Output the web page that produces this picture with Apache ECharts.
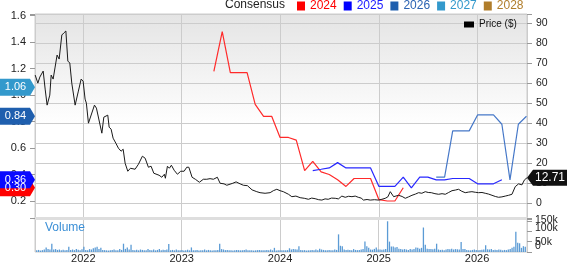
<!DOCTYPE html>
<html><head><meta charset="utf-8">
<script src="https://cdn.jsdelivr.net/npm/echarts@6/dist/echarts.min.js"></script>
<style>html,body{margin:0;padding:0;background:#fff}#c{width:568px;height:264px}</style>
</head><body><div id="c"></div>
<script>
// ---------- data ----------
const xStart = '2021-07-08';
const xEnd = '2026-07-03';
const yearLabels = ['2022', '2023', '2024', '2025', '2026'];

// Price ($), dates as decimal years
const priceYears = [
  2021.517, 2021.544, 2021.564, 2021.582, 2021.598, 2021.618, 2021.638, 2021.665, 2021.679, 2021.699,
  2021.719, 2021.739, 2021.760, 2021.787, 2021.807, 2021.828, 2021.848, 2021.868, 2021.888, 2021.922,
  2021.955, 2021.983, 2022.003, 2022.023, 2022.036, 2022.057, 2022.077, 2022.118, 2022.138, 2022.158,
  2022.193, 2022.213, 2022.233, 2022.253, 2022.267, 2022.287, 2022.307, 2022.335, 2022.361, 2022.388,
  2022.409, 2022.429, 2022.456, 2022.483, 2022.530, 2022.564, 2022.604, 2022.632, 2022.665, 2022.692,
  2022.720, 2022.740, 2022.773, 2022.801, 2022.827, 2022.837, 2022.858, 2022.878, 2022.898, 2022.926,
  2022.959, 2022.993, 2023.027, 2023.054, 2023.075, 2023.108, 2023.141, 2023.182, 2023.222, 2023.257,
  2023.290, 2023.324, 2023.364, 2023.392, 2023.432, 2023.460, 2023.480, 2023.521, 2023.554, 2023.595,
  2023.628, 2023.669, 2023.716, 2023.764, 2023.797, 2023.848, 2023.899, 2023.932, 2023.967, 2024.000,
  2024.033, 2024.051, 2024.085, 2024.119, 2024.160, 2024.203, 2024.245, 2024.287, 2024.320, 2024.355,
  2024.390, 2024.423, 2024.455, 2024.487, 2024.520, 2024.558, 2024.590, 2024.625, 2024.659, 2024.693,
  2024.727, 2024.760, 2024.791, 2024.820, 2024.844, 2024.880, 2024.912, 2024.955, 2024.996, 2025.030,
  2025.064, 2025.090, 2025.115, 2025.149, 2025.199, 2025.235, 2025.267, 2025.300, 2025.335, 2025.370,
  2025.402, 2025.435, 2025.470, 2025.500, 2025.531, 2025.568, 2025.605, 2025.640, 2025.673, 2025.707,
  2025.741, 2025.775, 2025.807, 2025.840, 2025.875, 2025.910, 2025.943, 2025.977, 2026.010, 2026.045,
  2026.078, 2026.112, 2026.146, 2026.180, 2026.213, 2026.247, 2026.281, 2026.315, 2026.349, 2026.382,
  2026.416, 2026.450, 2026.476, 2026.501
];
const priceValues = [
  64, 60, 63, 63.5, 66, 57, 49, 54, 64, 62,
  68, 74, 72, 84, 85, 86, 71, 70, 60, 49,
  56, 62, 61, 52, 50, 40, 40, 49, 47.5, 48,
  35, 43, 43, 44, 38, 37, 32.5, 30, 27.5, 26,
  27, 20, 16, 17.5, 17, 19.5, 23.5, 22.5, 18, 18.5,
  15, 14.5, 14, 13, 14.5, 12.5, 18.5, 17.5, 19, 16.5,
  14.5, 16, 16, 18, 18, 13, 12, 10.5, 12, 12,
  12.3, 12, 13, 10, 9.7, 9, 8.3, 10, 10.7, 9.7,
  9, 8.8, 6.7, 5.8, 5.3, 5, 5.3, 6.3, 7, 6.3,
  5.8, 5.8, 4.5, 3.3, 3.6, 2.8, 2.5, 2, 2.6, 2.3,
  1.8, 1.6, 2.2, 2, 2.6, 2.5, 2.2, 3.6, 3, 3.5,
  3.3, 3.6, 3, 2.6, 1.6, 1.9, 1.6, 1.8, 1.6, 2.0,
  2.5, 3.2, 5.8, 3.3, 4, 3.4, 2.5, 3.2, 4, 4.6,
  5.3, 5.0, 5.8, 5.4, 5.3, 4.8, 4.5, 4.8, 4.5, 5.4,
  6.3, 6.6, 7, 6.0, 5.3, 5.6, 5.8, 5.5, 5.3, 5.4,
  5, 4.6, 4, 3.4, 3, 3.2, 3.6, 4.0, 4.5, 8.3,
  9.7, 9.2, 11.7, 12.71
];

// Consensus EPS, monthly
const months2024 = ['2023-05','2023-06','2023-07','2023-08','2023-09','2023-10','2023-11','2023-12',
  '2024-01','2024-02','2024-03','2024-04','2024-05','2024-06','2024-07','2024-08','2024-09','2024-10',
  '2024-11','2024-12','2025-01','2025-02','2025-03','2025-04'];
const eps2024 = [1.18, 1.48, 1.17, 1.17, 1.17, 0.93, 0.84, 0.84,
  0.68, 0.68, 0.66, 0.43, 0.50, 0.42, 0.40, 0.36, 0.31, 0.37,
  0.37, 0.37, 0.21, 0.20, 0.20, 0.30];
const months2025 = ['2024-05','2024-06','2024-07','2024-08','2024-09','2024-10','2024-11','2024-12',
  '2025-01','2025-02','2025-03','2025-04','2025-05','2025-06','2025-07','2025-08','2025-09','2025-10',
  '2025-11','2025-12','2026-01','2026-02','2026-03','2026-04'];
const eps2025 = [0.43, 0.44, 0.45, 0.49, 0.45, 0.45, 0.45, 0.45,
  0.31, 0.31, 0.31, 0.38, 0.30, 0.38, 0.38, 0.36, 0.36, 0.37,
  0.37, 0.37, 0.33, 0.33, 0.33, 0.36];
const months2026 = ['2025-08','2025-09','2025-10','2025-11','2025-12','2026-01','2026-02','2026-03',
  '2026-04','2026-05','2026-06','2026-07'];
const eps2026 = [0.38, 0.38, 0.73, 0.73, 0.73, 0.85, 0.85, 0.85, 0.78, 0.36, 0.78, 0.84];
const months2027 = ['2026-07'];
const eps2027 = [1.06];
const months2028 = [];
const eps2028 = [];

// Weekly volume (thousands)
const volumeStart = '2021-07-12';
const volumeK = [
  8, 10, 7, 9, 12, 22, 14, 12, 40, 12,
  14, 10, 12, 9, 11, 8, 10, 25, 10, 12,
  9, 14, 11, 8, 13, 25, 10, 9, 14, 12,
  18, 22, 25, 14, 20, 10, 9, 8, 7, 9,
  10, 12, 9, 8, 14, 10, 40, 15, 22, 12,
  35, 10, 9, 11, 8, 12, 10, 9, 8, 14,
  10, 9, 12, 8, 10, 15, 9, 11, 10, 12,
  38, 9, 10, 8, 12, 9, 8, 10, 7, 9,
  11, 8, 22, 9, 8, 10, 7, 9, 8, 12,
  8, 10, 9, 7, 8, 9, 10, 40, 14, 12,
  9, 10, 8, 9, 7, 8, 10, 9, 8, 9,
  10, 12, 9, 8, 9, 7, 8, 9, 10, 8,
  9, 8, 10, 9, 12, 8, 20, 7, 8, 9,
  8, 9, 8, 9, 18, 12, 14, 13, 12, 28,
  10, 8, 9, 7, 8, 9, 10, 8, 12, 9,
  16, 12, 10, 9, 8, 10, 9, 8, 12, 10,
  85, 30, 28, 12, 10, 11, 10, 9, 14, 10,
  9, 10, 12, 14, 50, 28, 20, 12, 11, 15,
  22, 12, 12, 11, 12, 14, 148, 50, 26, 26,
  22, 24, 16, 15, 12, 14, 12, 10, 14, 12,
  14, 22, 20, 16, 20, 118, 35, 16, 14, 14,
  13, 16, 40, 12, 10, 11, 9, 12, 14, 13,
  16, 12, 14, 13, 12, 48, 15, 14, 10, 9,
  8, 10, 12, 10, 9, 10, 11, 12, 32, 13,
  12, 14, 10, 11, 10, 12, 11, 8, 10, 9,
  12, 15, 20, 25, 97, 45, 42, 20, 28, 25
];
const volumeTicks = [0, 50000, 100000, 150000];

// ---------- helpers ----------
function parseDate(s) {
  const p = s.split('-').map(Number);
  return new Date(p[0], p[1] - 1, p[2] || 1).getTime();
}
function yearToTime(y) {
  const Y = Math.floor(y);
  const a = new Date(Y, 0, 1).getTime(), b = new Date(Y + 1, 0, 1).getTime();
  return a + (y - Y) * (b - a);
}
const tMin = parseDate(xStart), tMax = parseDate(xEnd);
const FONT = 'Liberation Sans, Arial, sans-serif';

function zip(dates, vals) { return dates.map((d, i) => [parseDate(d), vals[i]]); }

function leftFlag(value, color) {
  return {
    silent: true, animation: false,
    symbol: 'path://M0,0L30,0L35,8.5L30,17L0,17Z',
    symbolSize: [35, 17], symbolOffset: [-17.5, 0], symbolKeepAspect: false,
    itemStyle: { color: color },
    label: { show: true, position: 'inside', color: '#fff', fontSize: 11, fontFamily: FONT,
      offset: [-2, 0], formatter: value.toFixed(2) },
    data: [{ coord: [tMin, value] }]
  };
}

const consensus = [
  { name: '2024', dates: months2024, vals: eps2024, line: '#ff2a2a', flag: '#ff0000' },
  { name: '2025', dates: months2025, vals: eps2025, line: '#2828ff', flag: '#0a0aff' },
  { name: '2026', dates: months2026, vals: eps2026, line: '#4678c8', flag: '#1f5fae' },
  { name: '2027', dates: months2027, vals: eps2027, line: '#3399cc', flag: '#3399cc' },
  { name: '2028', dates: months2028, vals: eps2028, line: '#b07d2b', flag: '#b07d2b' }
];

const series = consensus.map(c => {
  const s = {
    name: c.name, type: 'line', xAxisIndex: 0, yAxisIndex: 0,
    data: zip(c.dates, c.vals), showSymbol: false, symbol: 'none',
    color: c.line, lineStyle: { width: 1.2, color: c.line }, z: 3, animation: false
  };
  if (c.vals.length) s.markPoint = leftFlag(c.vals[c.vals.length - 1], c.flag);
  return s;
});

const lastPrice = priceValues[priceValues.length - 1];
series.push({
  name: 'Price ($)', type: 'line', xAxisIndex: 0, yAxisIndex: 1,
  data: priceYears.map((y, i) => [yearToTime(y), priceValues[i]]),
  showSymbol: false, symbol: 'none', color: '#111',
  lineStyle: { width: 1, color: '#1a1a1a' }, z: 4, animation: false,
  markPoint: {
    silent: true, animation: false,
    symbol: 'path://M0,8L6,0L40,0L40,16L6,16Z',
    symbolSize: [40, 16], symbolOffset: [20, 0], symbolKeepAspect: false,
    itemStyle: { color: '#111' },
    label: { show: true, position: 'inside', color: '#fff', fontSize: 12, fontFamily: FONT,
      offset: [3, 0], formatter: lastPrice.toFixed(2) },
    data: [{ coord: [tMax, lastPrice] }]
  }
});

const DAY = 86400000;
const vStart = parseDate(volumeStart);
series.push({
  name: 'Volume', type: 'bar', xAxisIndex: 1, yAxisIndex: 2,
  data: volumeK.map((v, i) => [vStart + i * 7 * DAY, v * 1000]),
  barWidth: 1.3, itemStyle: { color: '#5b9bd5' }, animation: false
});

const isMult = (v, step) => Math.abs(v / step - Math.round(v / step)) < 1e-6;
const volStep = volumeTicks[1] - volumeTicks[0];
const volTop = volumeTicks[volumeTicks.length - 1];
const volLabel = v => (v === 0 ? '0' : (v > 0 && v <= volTop ? (v / 1000) + 'k' : ''));

const timeAxisBase = {
  type: 'time', min: tMin, max: tMax, splitNumber: 5,
  minInterval: 360 * DAY,
  splitLine: { show: true, lineStyle: { color: '#cccccc', width: 1 } },
  axisTick: { show: false }
};

// label-only scale for the volume pane (split into two axes so that labels never collide)
function volLabelAxis(gridIndex, min, max) {
  return { type: 'value', gridIndex: gridIndex, position: 'right',
    min: min, max: max, interval: 2 * volStep,
    splitLine: { show: false }, axisLine: { show: false }, axisTick: { show: false },
    axisLabel: { margin: 8, fontSize: 10.5, color: '#222', fontFamily: FONT,
      showMinLabel: false, showMaxLabel: false, formatter: volLabel } };
}

const option = {
  animation: false,
  backgroundColor: '#ffffff',
  textStyle: { fontFamily: FONT },
  title: [
    { text: 'Consensus', left: 225, top: -1, padding: 0,
      textStyle: { fontSize: 12, fontWeight: 'normal', color: '#222', fontFamily: FONT } },
    { text: 'Volume', left: 45, top: 222, padding: 0,
      textStyle: { fontSize: 12, fontWeight: 'normal', color: '#3b8fd6', fontFamily: FONT } }
  ],
  legend: [
    { left: 297, top: 0, padding: 0, itemWidth: 8, itemHeight: 9, itemGap: 7, icon: 'rect',
      selectedMode: false,
      textStyle: { fontSize: 12, fontFamily: FONT },
      data: [
        { name: '2024', textStyle: { color: '#ff0000' }, itemStyle: { color: '#ff0000' } },
        { name: '2025', textStyle: { color: '#1a1aff' }, itemStyle: { color: '#0000ff' } },
        { name: '2026', textStyle: { color: '#2a62b2' }, itemStyle: { color: '#1f5fae' } },
        { name: '2027', textStyle: { color: '#3399cc' }, itemStyle: { color: '#3399cc' } },
        { name: '2028', textStyle: { color: '#b07d2b' }, itemStyle: { color: '#b07d2b' } }
      ] },
    { left: 464, top: 19.5, padding: 0, itemWidth: 10, itemHeight: 6, icon: 'rect',
      selectedMode: false,
      textStyle: { fontSize: 10, color: '#111', fontFamily: FONT },
      data: [{ name: 'Price ($)', itemStyle: { color: '#000' } }] }
  ],
  grid: [
    { left: 35, right: 41, top: 14, bottom: 46, show: true, borderColor: '#cccccc', borderWidth: 1,
      backgroundColor: { type: 'linear', x: 0, y: 0, x2: 0, y2: 1,
        colorStops: [{ offset: 0, color: '#e4e4e4' }, { offset: 0.55, color: '#ffffff' }, { offset: 1, color: '#ffffff' }] } },
    { left: 35, right: 41, top: 219, bottom: 9.7, show: true, borderColor: '#cccccc', borderWidth: 1,
      backgroundColor: '#ffffff' },
    // label panes for the volume scale: 33.3 px per 150k, 0 at y=254.3
    { left: 35, right: 41, top: 198.8, bottom: -1.4, show: false },   // -50k .. 250k
    { left: 35, right: 41, top: 209.9, bottom: -12.5, show: false }   // -100k .. 200k
  ],
  xAxis: [
    Object.assign({}, timeAxisBase, { gridIndex: 0,
      axisLabel: { show: false },
      axisLine: { show: true, onZero: false, lineStyle: { color: '#dedede', width: 3 } } }),
    Object.assign({}, timeAxisBase, { gridIndex: 1,
      axisLine: { show: false },
      axisLabel: { show: true, margin: 1, fontSize: 11, color: '#222', fontFamily: FONT,
        showMinLabel: false, showMaxLabel: false,
        formatter: function (v) { const y = String(new Date(v).getFullYear());
          const d = new Date(v); return (d.getMonth() === 0 && d.getDate() === 1 && yearLabels.includes(y)) ? y : ''; } } }),
    { type: 'value', gridIndex: 2, show: false, min: 0, max: 1 },
    { type: 'value', gridIndex: 3, show: false, min: 0, max: 1 }
  ],
  yAxis: [
    { type: 'value', gridIndex: 0, position: 'left', min: 0.0716, max: 1.6128, splitNumber: 8,
      splitLine: { show: false }, axisLine: { show: false },
      axisTick: { show: true, length: 5, lineStyle: { color: '#999' } },
      axisLabel: { margin: 9, fontSize: 11, color: '#222', fontFamily: FONT,
        formatter: v => isMult(v, 0.2) ? v.toFixed(1) : '' } },
    { type: 'value', gridIndex: 0, position: 'right', min: -7.34, max: 94.49, splitNumber: 10,
      splitLine: { show: true, lineStyle: { color: '#cccccc' } }, axisLine: { show: false },
      axisTick: { show: true, length: 5, lineStyle: { color: '#999' } },
      axisLabel: { margin: 9, fontSize: 10.5, color: '#222', fontFamily: FONT,
        formatter: v => isMult(v, 10) ? String(Math.round(v)) : '' } },
    { type: 'value', gridIndex: 1, position: 'right', min: 0, max: 159000, splitNumber: 3,
      splitLine: { show: false }, axisLine: { show: false },
      axisTick: { show: true, length: 5, lineStyle: { color: '#999' } },
      axisLabel: { show: false } },
    volLabelAxis(2, -volStep, 5 * volStep),       // labels 50k, 150k
    volLabelAxis(3, -2 * volStep, 4 * volStep)    // labels 0, 100k
  ],
  series: series
};

const chart = echarts.init(document.getElementById('c'), null, { renderer: 'canvas' });
chart.setOption(option);
</script>
</body></html>
